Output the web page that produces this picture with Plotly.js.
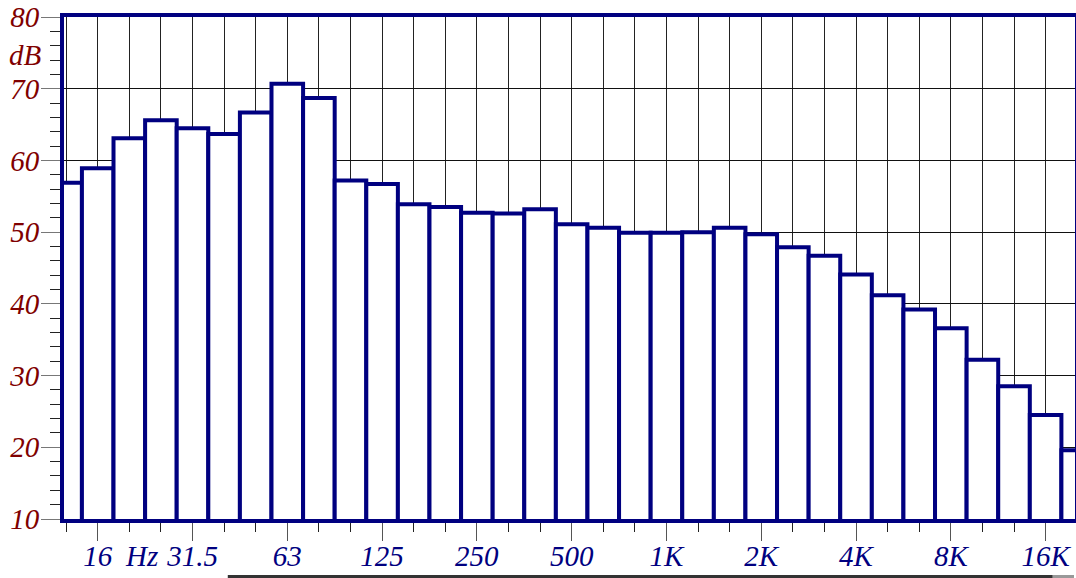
<!DOCTYPE html>
<html>
<head>
<meta charset="utf-8">
<script src="https://cdn.plot.ly/plotly-3.0.1.min.js"></script>
<style>
  html, body { margin: 0; padding: 0; background: #ffffff; }
  #chart { width: 1076px; height: 578px; }
</style>
</head>
<body>
<div id="chart"></div>
<script>
// Third-octave band centres (Hz)
const bands = ['12.5','16','20','25','31.5','40','50','63','80','100','125','160','200','250','315','400','500','630','800','1K','1.25K','1.6K','2K','2.5K','3.15K','4K','5K','6.3K','8K','10K','12.5K','16K','20K'];
// Band levels (dB)
const levels = [56.9,58.9,63.1,65.6,64.5,63.7,66.7,70.7,68.7,57.2,56.7,53.9,53.5,52.7,52.6,53.2,51.1,50.6,49.9,49.9,50.0,50.6,49.7,47.9,46.7,44.1,41.2,39.2,36.6,32.2,28.5,24.5,19.6];
// Labelled octave bands on the x axis
const tickBands = ['16','31.5','63','125','250','500','1K','2K','4K','8K','16K'];
// Y axis labels
const yTicks = [10,20,30,40,50,60,70,80];

const xIdx = bands.map((b, i) => i);
const tickIdx = tickBands.map(b => bands.indexOf(b));

const navy = '#000080';
const darkRed = '#800000';
const serif = '"Liberation Serif", "DejaVu Serif", serif';

const trace = {
  type: 'bar',
  x: xIdx,
  y: levels,
  width: 1,
  marker: { color: '#ffffff', line: { color: navy, width: 4 } },
  hoverinfo: 'skip'
};

const layout = {
  width: 1076,
  height: 578,
  margin: { l: 64, r: 1, t: 17, b: 59, pad: 0 },
  paper_bgcolor: '#ffffff',
  plot_bgcolor: '#ffffff',
  showlegend: false,
  bargap: 0,
  xaxis: {
    range: [-0.067, 31.93],
    tickmode: 'array',
    tickvals: tickIdx,
    ticktext: tickBands.map(t => '<i>' + t + '</i>'),
    ticks: 'outside',
    ticklen: 18,
    tickwidth: 1,
    tickcolor: '#555555',
    ticklabelstandoff: -10,
    showgrid: true,
    gridcolor: '#222222',
    gridwidth: 1,
    zeroline: false,
    showline: true,
    linecolor: navy,
    linewidth: 4,
    mirror: true,
    tickfont: { family: serif, size: 29, color: navy },
    minor: {
      tickmode: 'linear', tick0: 0, dtick: 1,
      ticks: 'outside', ticklen: 9, tickwidth: 1, tickcolor: '#222222',
      showgrid: true, gridcolor: '#222222', gridwidth: 1
    }
  },
  yaxis: {
    range: [10, 80],
    tickmode: 'array',
    tickvals: yTicks,
    ticktext: yTicks.map(v => '<i>' + v + '</i>'),
    ticks: 'outside',
    ticklen: 19,
    tickwidth: 1,
    tickcolor: '#777777',
    ticklabelstandoff: -4,
    showgrid: true,
    gridcolor: '#111111',
    gridwidth: 1,
    zeroline: false,
    showline: true,
    linecolor: navy,
    linewidth: 4,
    mirror: true,
    tickfont: { family: serif, size: 29, color: darkRed },
    minor: {
      tickmode: 'linear', tick0: 10, dtick: 2,
      ticks: 'outside', ticklen: 10, tickwidth: 1, tickcolor: '#222222',
      showgrid: false
    }
  },
  annotations: [
    { text: '<i>dB</i>', xref: 'paper', x: 0, xanchor: 'right', xshift: -20,
      yref: 'y', y: 74.7, yanchor: 'middle', showarrow: false,
      font: { family: serif, size: 29, color: darkRed } },
    { text: '<i>Hz</i>', xref: 'x', x: 2.37, xanchor: 'center',
      yref: 'paper', y: -0.073, yanchor: 'middle', showarrow: false,
      font: { family: serif, size: 29, color: navy } },
    { text: '10', xref: 'paper', x: 0.132, xanchor: 'center',
      yref: 'paper', y: -0.107, yanchor: 'top', showarrow: false,
      font: { family: serif, size: 20, color: '#000000' } }
  ],
  shapes: [
    { type: 'line', xref: 'paper', yref: 'paper', x0: 0.162, x1: 0.978, y0: -0.1145, y1: -0.1145,
      line: { color: '#333333', width: 3 } },
    { type: 'line', xref: 'paper', yref: 'paper', x0: 0.978, x1: 0.999, y0: -0.1145, y1: -0.1145,
      line: { color: '#999999', width: 3 } }
  ]
};

Plotly.newPlot('chart', [trace], layout, { staticPlot: true, displayModeBar: false });
</script>
</body>
</html>
